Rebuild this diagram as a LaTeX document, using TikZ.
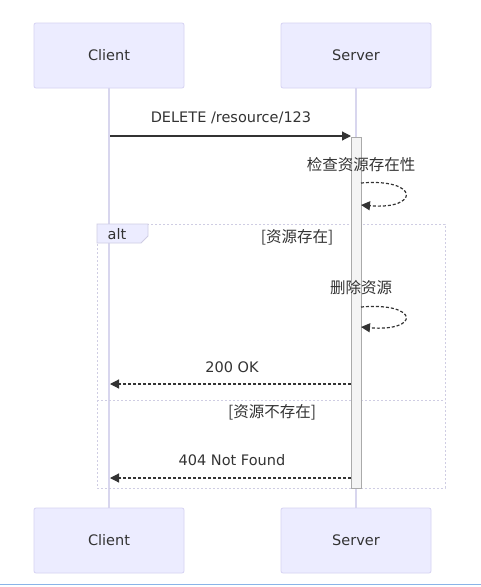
\documentclass[tikz,border=0pt]{standalone}
\usepackage{fontspec}
\setmainfont{DejaVu Sans}
\newfontfamily\cjk{Noto Sans CJK SC}
\usetikzlibrary{arrows.meta}
\definecolor{actfill}{HTML}{ECECFF}
\definecolor{actdraw}{HTML}{D6D3F3}
\definecolor{lifec}{HTML}{D8D6EE}
\definecolor{msgc}{HTML}{333333}
\definecolor{altc}{HTML}{CFCDE3}
\definecolor{actvfill}{HTML}{F4F4F4}
\definecolor{actvdraw}{HTML}{AAAAAA}
\tikzset{
  actor/.style={draw=actdraw, fill=actfill, rounded corners=2pt, minimum width=150pt, minimum height=65pt, font=\fontsize{14.5}{16}\selectfont, text=msgc, line width=0.8pt},
  life/.style={draw=lifec, line width=1.2pt},
  msg/.style={draw=msgc, line width=1.2pt, -{Triangle[length=9pt,width=9pt]}},
  reply/.style={msg, dash pattern=on 3pt off 2pt},
  lbl/.style={font=\fontsize{14.5}{16}\selectfont, text=msgc, inner sep=0pt},
  cjklbl/.style={font=\cjk\fontsize{15.5}{17}\selectfont, text=msgc, inner sep=0pt},
  frame/.style={draw=altc, line width=1pt, dash pattern=on 2pt off 2pt},
}
\begin{document}
\begin{tikzpicture}[x=1pt,y=-1pt]
\useasboundingbox (0,0) rectangle (481,587);
\fill[white] (0,0) rectangle (481,587);
% lifelines
\coordinate (cl1) at (109,88);
\coordinate (cl2) at (109,508);
\coordinate (sl1) at (356,88);
\coordinate (sl2) at (356,508);
\draw[life] (cl1) -- (cl2);
\draw[life] (sl1) -- (sl2);
% actors
\node[actor] (ct) at (109,55.5) {Client};
\node[actor] (st) at (356,55.5) {Server};
\node[actor] (cb) at (109,540.5) {Client};
\node[actor] (sb) at (356,540.5) {Server};
% alt frame
\draw[frame] (97,224) rectangle (445,488);
\draw[frame] (97,400) -- (445,400);
\draw[draw=altc, fill=actfill, line width=0.8pt] (97,224) -- (148,224) -- (148,236) -- (141,243) -- (97,243) -- cycle;
\node[lbl] (alt) at (117,234) {alt};
\node[cjklbl] (g1) at (297,237) {[资源存在]};
\node[cjklbl] (g2) at (272,412) {[资源不存在]};
% activation
\node[draw=actvdraw, fill=actvfill, line width=1pt, minimum width=10pt, minimum height=351pt, inner sep=0pt, anchor=north] (act) at (356,136.5) {};
% messages
\coordinate (m1s) at (110,136);
\coordinate (m1e) at (351,136);
\draw[msg] (m1s) -- (m1e);
\node[lbl] (l1) at (231,118) {DELETE /resource/123};
\node[cjklbl] (l2) at (361,165) {检查资源存在性};
\coordinate (s1a) at (361,183);
\coordinate (s1b) at (361,205);
\draw[reply] (s1a) .. controls (420,178) and (420,210) .. (s1b);
\node[cjklbl] (l3) at (361,288) {删除资源};
\coordinate (s2a) at (361,307);
\coordinate (s2b) at (361,327);
\draw[reply] (s2a) .. controls (420,302) and (420,332) .. (s2b);
\node[lbl] (l4) at (232,367) {200 OK};
\coordinate (r1s) at (351,384);
\coordinate (r1e) at (110,384);
\draw[reply] (r1s) -- (r1e);
\node[lbl] (l5) at (232,460) {404 Not Found};
\coordinate (r2s) at (351,478);
\coordinate (r2e) at (110,478);
\draw[reply] (r2s) -- (r2e);
% bottom edge line
\draw[draw={rgb,255:red,138;green,180;blue,232}, line width=1.5pt] (0,584.5) -- (481,584.5);
\end{tikzpicture}
\end{document}
